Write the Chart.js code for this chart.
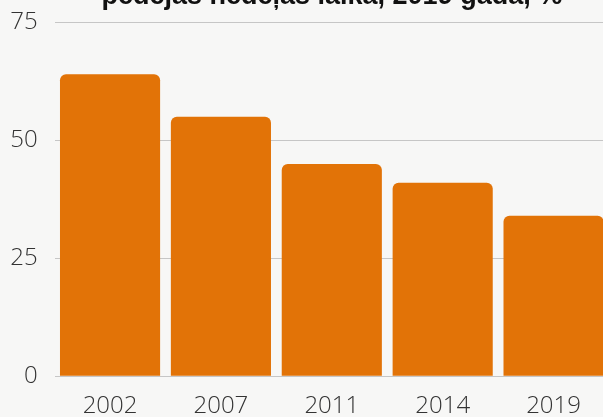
<!DOCTYPE html>
<html>
<head>
<meta charset="utf-8">
<script src="https://cdn.jsdelivr.net/npm/chart.js@4.4.1/dist/chart.umd.min.js"></script>
<style>
    html, body { margin: 0; padding: 0; background: #f7f7f6; overflow: hidden; width: 603px; height: 417px; }
    #wrap { position: absolute; left: 0; top: -20px; width: 609px; height: 457px; }
</style>
</head>
<body>
<div id="wrap"><canvas id="chart"></canvas></div>
<script>
// dati nolasiti no attela
var gadi = ['2002', '2007', '2011', '2014', '2019'];
var vertibas = [64, 55, 45, 41, 34];
var asisTicks = [0, 25, 50, 75];
var virsraksts = 'pēdējās nedēļas laikā, 2019 gadā, %';

var fonts = { family: '"Open Sans", sans-serif', size: 24, weight: 300 };

const ctx = document.getElementById('chart');
new Chart(ctx, {
    type: 'bar',
    data: {
        labels: gadi,
        datasets: [{
            data: vertibas,
            backgroundColor: '#e27307',
            borderRadius: 6,
            categoryPercentage: 0.903,
            barPercentage: 1
        }]
    },
    options: {
        responsive: true,
        maintainAspectRatio: false,
        animation: false,
        layout: { padding: { left: 10, right: 0, top: 0, bottom: 0 } },
        plugins: {
            legend: { display: false },
            tooltip: { enabled: false },
            title: {
                display: true,
                text: virsraksts,
                fullSize: false,
                color: '#111',
                font: { family: '"Liberation Sans", Arial, sans-serif', size: 27, weight: 'bold' },
                padding: { top: 0, bottom: 10 }
            }
        },
        scales: {
            x: {
                grid: { display: false, drawTicks: false },
                border: { display: false },
                ticks: { color: '#333', font: fonts, padding: 16, maxRotation: 0 }
            },
            y: {
                min: 0,
                max: 75,
                afterBuildTicks: function (axis) {
                    axis.ticks = asisTicks.map(function (v) { return { value: v }; });
                },
                afterFit: function (axis) {
                    axis.width = 44.6;
                },
                grid: { color: '#c6c6c6', lineWidth: 1, drawTicks: false },
                border: { display: false },
                ticks: { color: '#333', font: fonts, padding: 17 }
            }
        }
    }
});
</script>
</body>
</html>
